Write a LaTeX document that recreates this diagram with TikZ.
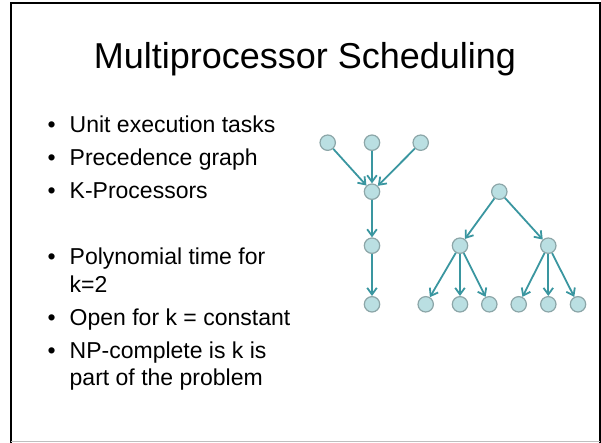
\documentclass[tikz,border=0pt]{standalone}
\usepackage{fontspec}
\setmainfont{Liberation Sans}
\usetikzlibrary{arrows.meta}
\definecolor{taskfill}{RGB}{186, 223, 226}
\definecolor{taskedge}{RGB}{140, 166, 168}
\definecolor{edgeteal}{RGB}{58, 150, 160}

\begin{document}
\begin{tikzpicture}[x=0.5pt,y=-0.5pt,
		task/.style={circle,draw=taskedge,fill=taskfill,line width=0.6pt,minimum size=7.7pt,inner sep=0pt},
		prec/.style={edgeteal,line width=0.9pt,-{Straight Barb[length=3.3pt,width=4.8pt]}},
		item/.style={anchor=base west,inner sep=0pt,font=\fontsize{11.5}{13.8}\selectfont},
		dot/.style={anchor=base,inner sep=0pt,font=\fontsize{11.5}{13.8}\selectfont}]
		\useasboundingbox (0,0) rectangle (601,443);
		% slide border
		\draw[black,line width=1pt] (11,443) -- (11,3.5) -- (599.5,3.5) -- (599.5,443);
		\draw[gray!50,line width=0.6pt] (11,441.5) -- (599.5,441.5);
		
		% title
		\node[anchor=base,inner sep=0pt,font=\fontsize{18}{21.6}\selectfont] (title) at (305,68.5) {Multiprocessor Scheduling};
		
		% bullet list
		\foreach \name/\y/\txt in {unit/132.7/Unit execution tasks, graph/165.7/Precedence graph, kproc/198.7/K-Processors, poly/265/Polynomial time for, open/325.7/Open for k = constant, npc/359/NP-complete is k is}
		{
			\node[dot] (\name-dot) at (51.7,\y) {•};
			\node[item] (\name) at (69.3,\y) {\txt};
		}
		\node[item] (poly-2) at (69.3,292.5) {k=2};
		\node[item] (npc-2) at (69.3,386) {part of the problem};
		
		% in-tree
		\node[task] (in1) at (327.7,142.7) {};
		\node[task] (in2) at (372,142.7) {};
		\node[task] (in3) at (420.7,142.7) {};
		\node[task] (join) at (372,191.7) {};
		\node[task] (mid) at (372,245.7) {};
		\node[task] (sink) at (372,304.3) {};
		\draw[prec] (in1) -- (join);
		\draw[prec] (in2) -- (join);
		\draw[prec] (in3) -- (join);
		\draw[prec] (join) -- (mid);
		\draw[prec] (mid) -- (sink);
		
		% out-tree
		\node[task] (root) at (499.3,191.7) {};
		\node[task] (left) at (460,245.7) {};
		\node[task] (right) at (548.3,245.7) {};
		\foreach \i/\x in {1/425.7, 2/460, 3/489.3, 4/518.7, 5/548.3, 6/578}
			\node[task] (leaf\i) at (\x,304.3) {};
		\draw[prec] (root) -- (left);
		\draw[prec] (root) -- (right);
		\foreach \i in {1,2,3}
			\draw[prec] (left) -- (leaf\i);
		\foreach \i in {4,5,6}
			\draw[prec] (right) -- (leaf\i);
	\end{tikzpicture}
\end{document}
